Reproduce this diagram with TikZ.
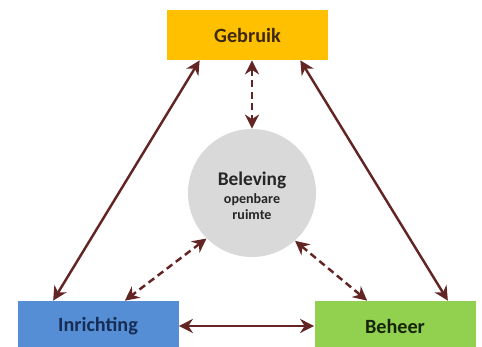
\documentclass[tikz,border=0pt]{standalone}
\usepackage{fontspec}
\setmainfont{Carlito}
\usetikzlibrary{arrows.meta}

\definecolor{gebruikgeel}{HTML}{FFC000}
\definecolor{inrichtblauw}{HTML}{558ED5}
\definecolor{beheergroen}{HTML}{92D050}
\definecolor{belevgrijs}{HTML}{D9D9D9}
\definecolor{pijlrood}{HTML}{632523}

\begin{document}
\begin{tikzpicture}[
            blok/.style={rectangle, minimum width=3.22cm, minimum height=1.0cm, inner sep=2pt, font=\bfseries\fontsize{11.5}{13}\selectfont},
            b_geb/.style={blok, fill=gebruikgeel, text={rgb,255:red,62;green,40;blue,16}},
            b_inr/.style={blok, fill=inrichtblauw, text={rgb,255:red,23;green,45;blue,85}},
            b_beh/.style={blok, fill=beheergroen, text={rgb,255:red,22;green,38;blue,12}},
            cirkel/.style={circle, fill=belevgrijs, minimum size=2.56cm, inner sep=0pt, text=black!85, font=\bfseries},
            relatie/.style={draw=pijlrood, line width=1.4pt, {Stealth[length=8pt,width=8pt]}-{Stealth[length=8pt,width=8pt]}},
            beleving/.style={relatie, dash pattern=on 4pt off 2.5pt}
        ]

    \useasboundingbox (0,0) rectangle (9.64,6.94);

    \node[b_geb] (geb) at (4.95,6.24) {Gebruik};
    \node[b_inr] (inr) at (1.96,0.42) {Inrichting};
    \node[b_beh] (beh) at (7.90,0.42) {Beheer};
    \node[cirkel] (bel) at (5.04,3.08) {\raisebox{4pt}[0pt][0pt]{\parbox[t]{2.4cm}{\centering
        {\fontsize{11}{12}\selectfont Beleving\par}
        {\fontsize{8}{10.2}\selectfont openbare\par}
        {\fontsize{8}{9}\selectfont ruimte\par}}}};

    % doorgetrokken relaties
    \draw[relatie] ([xshift=0.66cm]geb.south west) -- ([xshift=0.72cm]inr.north west);
    \draw[relatie] ([xshift=-0.56cm]geb.south east) -- ([xshift=-0.56cm]beh.north east);
    \draw[relatie] (inr.east) -- (beh.west);

    % relaties met de beleving
    \draw[beleving] (bel.north |- geb.south) -- (bel.north);
    \draw[beleving] (bel.225) -- ([xshift=-1.08cm]inr.north east);
    \draw[beleving] (bel.312) -- ([xshift=1.06cm]beh.north west);

\end{tikzpicture}
\end{document}
